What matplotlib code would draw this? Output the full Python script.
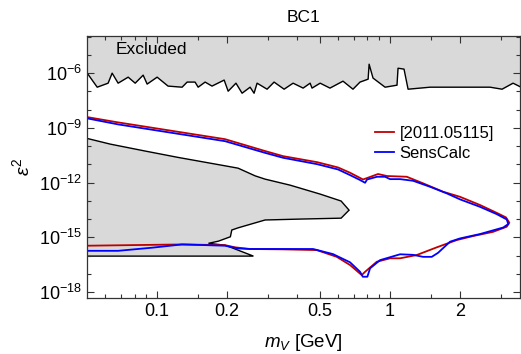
import numpy as np
import matplotlib
matplotlib.use("Agg")
import matplotlib.pyplot as plt
from matplotlib.ticker import FixedLocator, FixedFormatter, NullFormatter

plt.rcParams['font.family'] = ['Liberation Sans', 'DejaVu Sans']
plt.rcParams['mathtext.fontset'] = 'custom'
plt.rcParams['mathtext.rm'] = 'Liberation Sans'
plt.rcParams['mathtext.it'] = 'Liberation Sans:italic'
plt.rcParams['mathtext.bf'] = 'Liberation Sans:bold'

# upper excluded region: boundary (m_V in GeV, log10 eps^2)
top_m = [0.0501, 0.0553, 0.0616, 0.0641, 0.0680, 0.0751, 0.0805, 0.0871, 0.0906, 0.100,
         0.1114, 0.128, 0.1345, 0.1455, 0.150, 0.1607, 0.172, 0.194, 0.2018, 0.218,
         0.2316, 0.2507, 0.2607, 0.2686, 0.2965, 0.3177, 0.3508, 0.3834, 0.4234, 0.4538,
         0.4624, 0.501, 0.552, 0.628, 0.693, 0.743, 0.805, 0.813, 0.845, 0.952,
         1.071, 1.082, 1.148, 1.195, 1.486, 2.687, 3.026, 3.373, 3.65]
top_log = [-6.00, -6.77, -6.55, -6.00, -6.55, -6.22, -6.55, -6.11, -6.60, -6.22,
           -6.71, -6.77, -6.49, -6.49, -6.77, -6.49, -6.71, -6.38, -6.99, -6.55,
           -7.10, -6.77, -7.10, -6.55, -6.88, -6.49, -6.88, -6.55, -6.82, -6.55,
           -6.82, -6.55, -6.82, -6.44, -6.88, -6.49, -6.33, -5.51, -6.27, -6.77,
           -6.66, -5.73, -5.78, -6.88, -6.77, -6.77, -6.88, -6.55, -6.77]

# lower-left excluded region outline
low_m = [0.0501, 0.0629, 0.0888, 0.1231, 0.1957, 0.2227, 0.2634, 0.2907, 0.3722, 0.501,
         0.6163, 0.6668, 0.6163, 0.4109, 0.2907, 0.2227, 0.2092, 0.2063, 0.1833, 0.1661,
         0.1957, 0.2092, 0.2590, 0.0501]
low_log = [-9.58, -9.89, -10.27, -10.62, -11.08, -11.21, -11.63, -11.81, -12.14, -12.63,
           -13.01, -13.51, -13.95, -14.00, -14.05, -14.48, -14.60, -14.97, -15.21, -15.33,
           -15.43, -15.57, -16.03, -16.03]

# [2011.05115] sensitivity contour
ref_m = [0.0501, 0.0680, 0.1957, 0.2907, 0.3473, 0.4861, 0.598, 0.6734, 0.7656, 0.8881,
         0.9708, 1.1795, 1.3858, 1.6884, 1.997, 2.434, 2.871, 3.147, 3.251, 3.168,
         2.768, 2.271, 1.933, 1.586, 1.302, 1.104, 1.0, 0.8768, 0.7811, 0.7558,
         0.6734, 0.5904, 0.4846, 0.3473, 0.2506, 0.2162, 0.1957, 0.1280, 0.0501]
ref_log = [-8.41, -8.70, -9.62, -10.27, -10.55, -10.88, -11.17, -11.46, -11.83, -11.53,
           -11.64, -11.68, -12.04, -12.50, -12.78, -13.23, -13.66, -13.91, -14.20, -14.42,
           -14.70, -14.93, -15.15, -15.55, -15.97, -16.15, -16.15, -16.34, -16.89, -17.07,
           -16.52, -16.07, -15.70, -15.66, -15.64, -15.55, -15.43, -15.39, -15.46]

# SensCalc sensitivity contour
sc_m = [0.0501, 0.0680, 0.1957, 0.2907, 0.3473, 0.4861, 0.598, 0.6734, 0.7434, 0.7811,
        0.7967, 0.8794, 0.9518, 1.0, 1.104, 1.255, 1.485, 1.751, 1.997, 2.434,
        2.871, 3.168, 3.218, 3.064, 2.434, 1.997, 1.809, 1.607, 1.510, 1.386,
        1.255, 1.104, 0.9059, 0.8208, 0.7991, 0.7636, 0.7434, 0.6734, 0.5690, 0.4672,
        0.2506, 0.2227, 0.1957, 0.1280, 0.0949, 0.0680, 0.0501]
sc_log = [-8.48, -8.81, -9.73, -10.37, -10.64, -10.99, -11.28, -11.59, -11.86, -12.01,
          -11.83, -11.68, -11.68, -11.81, -11.81, -11.90, -12.23, -12.59, -12.92, -13.33,
          -13.73, -14.02, -14.27, -14.46, -14.82, -15.06, -15.24, -15.85, -16.07, -16.07,
          -15.96, -15.93, -16.25, -16.70, -17.16, -17.16, -16.89, -16.37, -15.92, -15.64,
          -15.64, -15.61, -15.46, -15.39, -15.57, -15.74, -15.74]

x_major = [0.1, 0.2, 0.5, 1, 2]
x_labels = ['0.1', '0.2', '0.5', '1', '2']
y_major_exp = [-18, -15, -12, -9, -6]

fig = plt.figure(figsize=(5.21, 3.54), dpi=100)
ax = fig.add_axes([0.167, 0.158, 0.832, 0.740])

gray = '#d9d9d9'
ax.fill_between(top_m, 10.0 ** np.array(top_log), 1.0, color=gray, lw=0)
ax.plot(top_m, 10.0 ** np.array(top_log), color='black', lw=1.0)
ax.fill(low_m, 10.0 ** np.array(low_log), facecolor=gray, edgecolor='black', lw=1.0)

ax.plot(ref_m, 10.0 ** np.array(ref_log), color='#c00000', lw=1.3, label='[2011.05115]')
ax.plot(sc_m, 10.0 ** np.array(sc_log), color='#0000ff', lw=1.3, label='SensCalc')

ax.set_xscale('log')
ax.set_yscale('log')
ax.set_xlim(0.05, 3.63)
ax.set_ylim(10 ** -18.33, 10 ** -3.97)

ax.xaxis.set_major_locator(FixedLocator(x_major))
ax.xaxis.set_major_formatter(FixedFormatter(x_labels))
ax.xaxis.set_minor_locator(FixedLocator([0.06, 0.07, 0.08, 0.09, 0.15, 0.3, 0.4, 0.6,
                                         0.7, 0.8, 0.9, 1.5, 3]))
ax.xaxis.set_minor_formatter(NullFormatter())
ax.yaxis.set_major_locator(FixedLocator([10.0 ** e for e in y_major_exp]))
ax.yaxis.set_major_formatter(FixedFormatter([r'$10^{%d}$' % e for e in y_major_exp]))
ax.yaxis.set_minor_locator(FixedLocator([10.0 ** e for e in range(-18, -3)]))
ax.yaxis.set_minor_formatter(NullFormatter())

ax.tick_params(which='both', direction='in', top=True, right=True, labelsize=13,
               color='#333333', width=0.8)
ax.tick_params(which='major', length=5)
ax.tick_params(which='minor', length=3)
for s in ax.spines.values():
    s.set_color('#333333')
    s.set_linewidth(0.9)

ax.set_title('BC1', fontsize=12.5, pad=10)
ax.set_xlabel(r'$m_V$ [GeV]', fontsize=13.5, labelpad=9)
ax.set_ylabel(r'$\varepsilon^2$', fontsize=14, labelpad=4)
ax.text(0.067, 0.947, 'Excluded', transform=ax.transAxes, fontsize=12.5, va='center', ha='left')

ax.legend(loc='upper left', bbox_to_anchor=(0.665, 0.657), frameon=False, fontsize=12,
          handlelength=1.1, handletextpad=0.35, labelspacing=0.32, borderpad=0,
          borderaxespad=0)

fig.savefig('out.png', dpi=100)
